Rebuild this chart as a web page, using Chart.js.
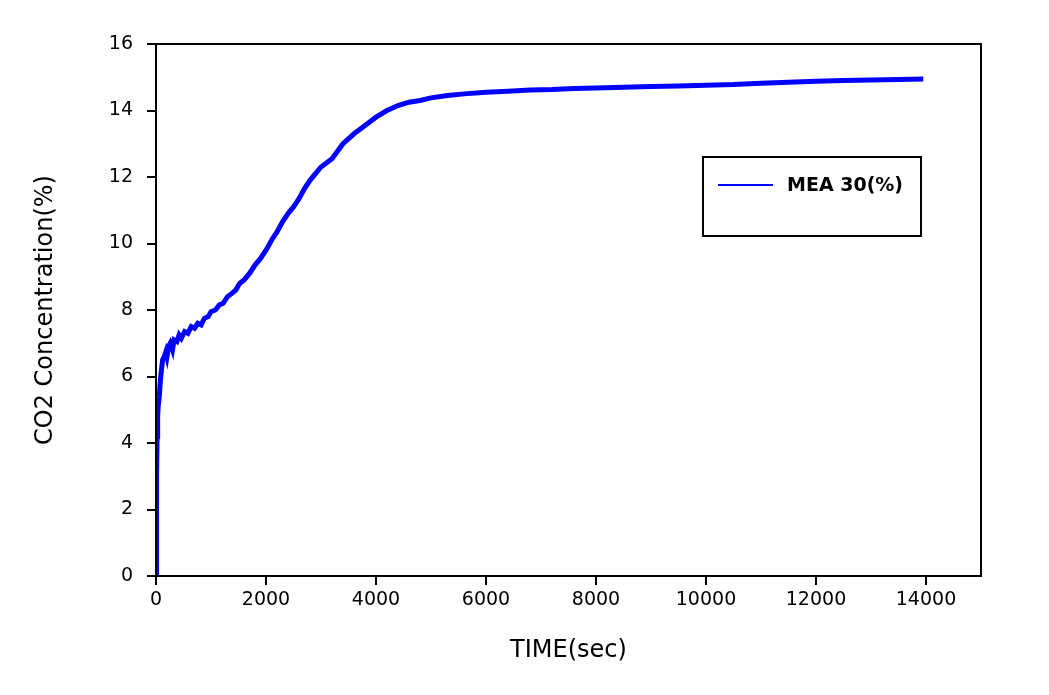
<!DOCTYPE html>
<html>
<head>
<meta charset="utf-8">
<script src="https://cdn.jsdelivr.net/npm/chart.js@4/dist/chart.umd.min.js"></script>
<style>
  html, body { margin: 0; padding: 0; background: #fff; }
  #wrap { width: 1049px; height: 695px; position: relative; }
</style>
</head>
<body>
<div id="wrap"><canvas id="c" width="1049" height="695"></canvas></div>
<script>
// Time (sec)
const timeSec = [0, 5, 10, 15, 20, 30, 40, 60, 80, 100, 120, 150, 180, 200, 230, 260, 300, 330, 380, 420, 460, 520, 580, 640, 700, 760, 820, 880, 950, 1000, 1080, 1150, 1220, 1300, 1380, 1450, 1520, 1600, 1700, 1800, 1900, 2000, 2100, 2200, 2300, 2400, 2500, 2600, 2700, 2800, 2900, 3000, 3200, 3400, 3600, 3800, 4000, 4200, 4400, 4600, 4800, 5000, 5300, 5600, 6000, 6400, 6800, 7200, 7600, 8000, 8500, 9000, 9500, 10000, 10500, 11000, 11500, 12000, 12500, 13000, 13500, 13950];
// CO2 concentration (%) for series "MEA 30(%)"
const co2Mea30 = [0.05, 0.6, 1.8, 3.0, 4.2, 4.8, 5.1, 5.4, 5.9, 6.2, 6.5, 6.6, 6.75, 6.6, 6.9, 7.0, 6.8, 7.1, 7.05, 7.25, 7.15, 7.35, 7.3, 7.5, 7.45, 7.6, 7.55, 7.75, 7.8, 7.95, 8.0, 8.15, 8.2, 8.4, 8.5, 8.6, 8.8, 8.9, 9.1, 9.35, 9.55, 9.8, 10.1, 10.35, 10.65, 10.9, 11.1, 11.35, 11.65, 11.9, 12.1, 12.3, 12.55, 13.0, 13.3, 13.55, 13.8, 14.0, 14.15, 14.25, 14.3, 14.38, 14.45, 14.5, 14.55, 14.58, 14.62, 14.63, 14.66, 14.68, 14.7, 14.72, 14.74, 14.76, 14.78, 14.82, 14.85, 14.88, 14.9, 14.92, 14.93, 14.95];
const seriesLabel = 'MEA 30(%)';
const xTitle = 'TIME(sec)';
const yTitle = 'CO2 Concentration(%)';
const xTickValues = [0, 2000, 4000, 6000, 8000, 10000, 12000, 14000];
const yTickValues = [0, 2, 4, 6, 8, 10, 12, 14, 16];

const points = timeSec.map((t, i) => ({ x: t, y: co2Mea30[i] }));

const framePlugin = {
  id: 'frame',
  afterDraw(chart) {
    const { ctx, chartArea: a } = chart;
    ctx.save();
    ctx.strokeStyle = '#000';
    ctx.lineWidth = 2;
    ctx.strokeRect(a.left, a.top, a.right - a.left, a.bottom - a.top);
    // legend box
    const bx = 703, by = 157, bw = 218, bh = 79;
    ctx.fillStyle = '#fff';
    ctx.fillRect(bx, by, bw, bh);
    ctx.strokeRect(bx, by, bw, bh);
    ctx.strokeStyle = '#0000ff';
    ctx.lineWidth = 2;
    ctx.beginPath();
    ctx.moveTo(718, 185);
    ctx.lineTo(773, 185);
    ctx.stroke();
    ctx.fillStyle = '#000';
    ctx.font = 'bold 19px "DejaVu Sans"';
    ctx.textBaseline = 'middle';
    ctx.textAlign = 'left';
    ctx.fillText(chart.data.datasets[0].label, 787, 186);
    ctx.restore();
  }
};

new Chart(document.getElementById('c'), {
  type: 'line',
  data: {
    datasets: [{
      label: seriesLabel,
      data: points,
      borderColor: '#0000ff',
      backgroundColor: '#0000ff',
      borderWidth: 5,
      pointRadius: 0,
      tension: 0,
      fill: false
    }]
  },
  options: {
    responsive: false,
    animation: false,
    layout: { padding: { left: 0, top: 44, right: 68, bottom: 0 } },
    plugins: { legend: { display: false }, tooltip: { enabled: false } },
    scales: {
      x: {
        type: 'linear',
        min: 0, max: 15000,
        afterFit(s) { s.height = 119; },
        afterBuildTicks(s) { s.ticks = xTickValues.map(v => ({ value: v })); },
        grid: { drawOnChartArea: false, drawTicks: true, tickLength: 9, color: '#000', lineWidth: 2 },
        border: { display: true, color: '#000', width: 2 },
        ticks: { color: '#000', font: { family: 'DejaVu Sans', size: 19 }, padding: 4, maxRotation: 0, autoSkip: false, callback: v => String(v) },
        title: { display: true, text: xTitle, color: '#000', font: { family: 'DejaVu Sans', size: 24 }, padding: { top: 0, bottom: 30 } }
      },
      y: {
        min: 0, max: 16,
        afterFit(s) { s.width = 156; },
        afterBuildTicks(s) { s.ticks = yTickValues.map(v => ({ value: v })); },
        grid: { drawOnChartArea: false, drawTicks: true, tickLength: 9, color: '#000', lineWidth: 2 },
        border: { display: true, color: '#000', width: 2 },
        ticks: { color: '#000', font: { family: 'DejaVu Sans', size: 19 }, padding: 14, autoSkip: false, callback: v => String(v) },
        title: { display: true, text: yTitle, color: '#000', font: { family: 'DejaVu Sans', size: 24 }, padding: { top: 31, bottom: 0 } }
      }
    }
  },
  plugins: [framePlugin]
});
</script>
</body>
</html>
